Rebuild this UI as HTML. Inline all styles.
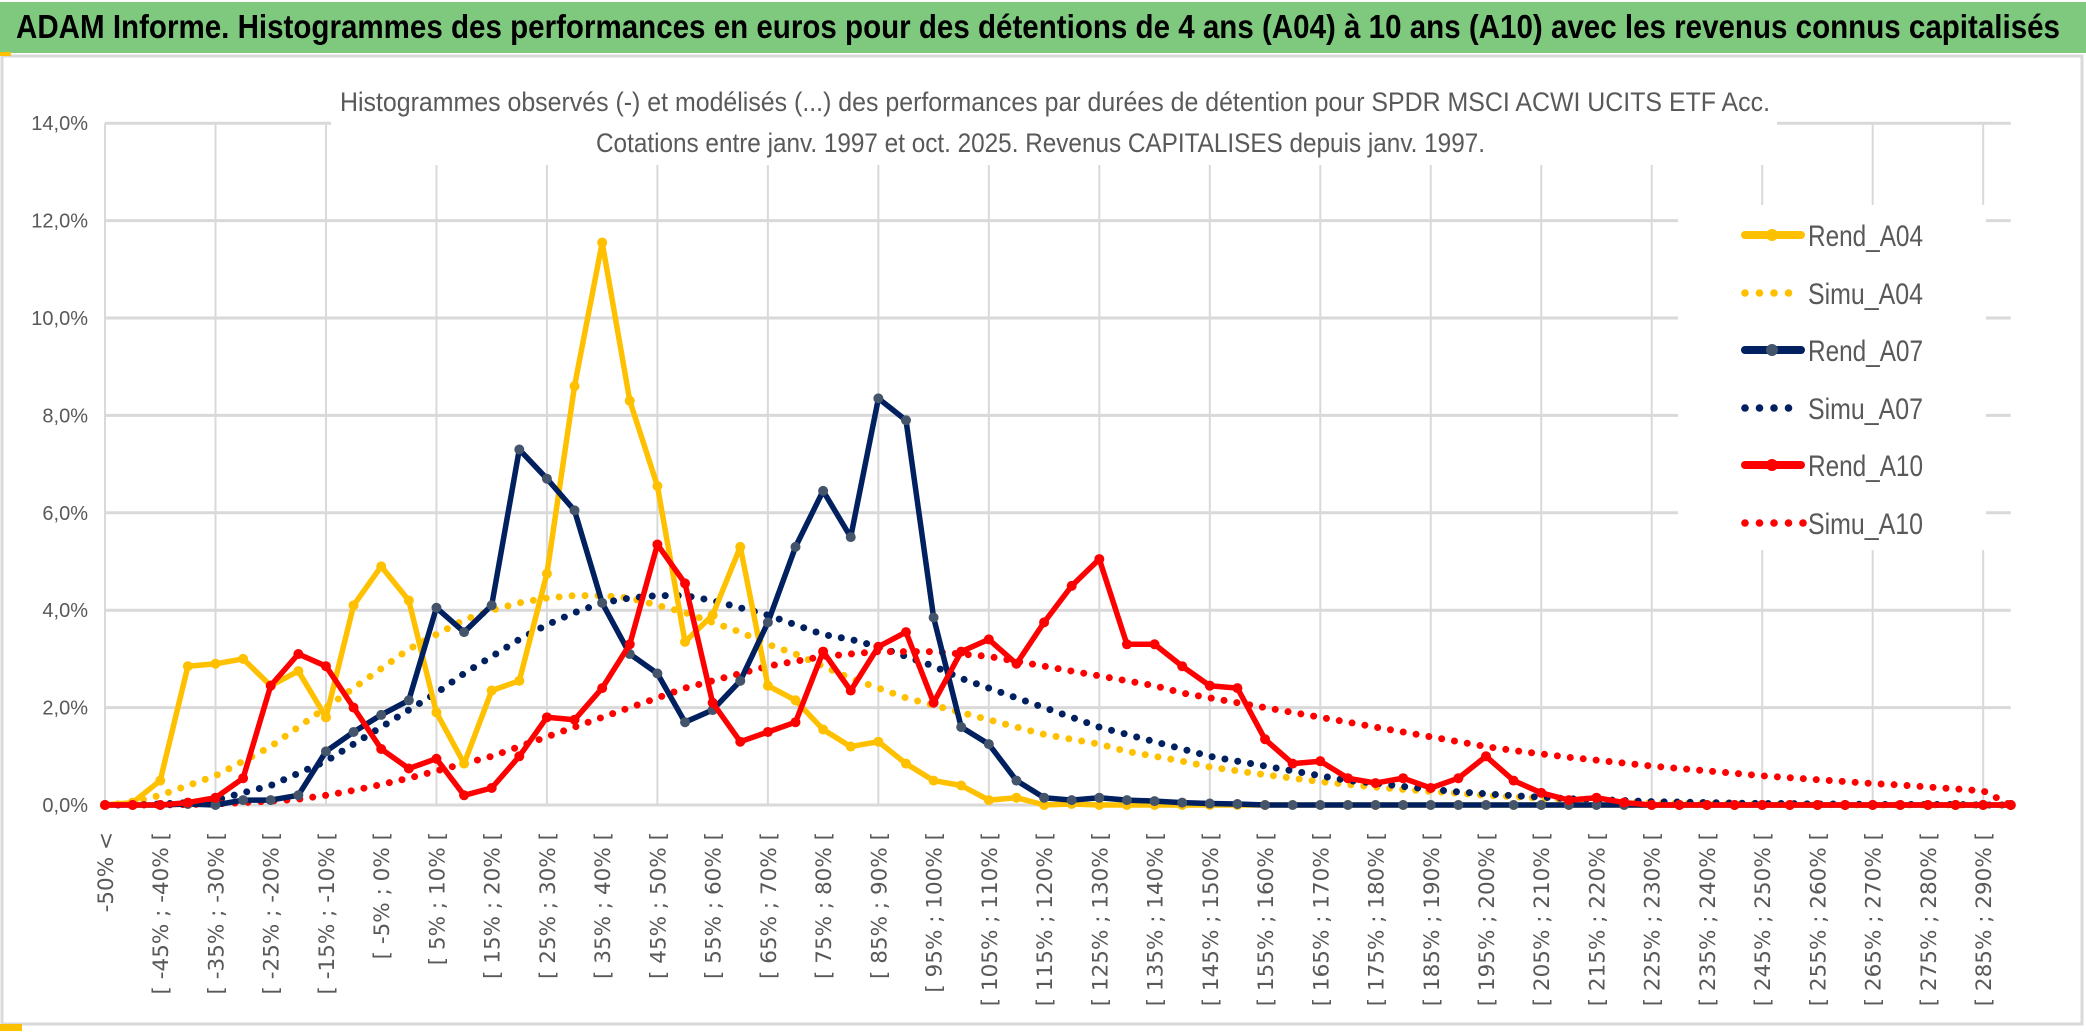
<!DOCTYPE html>
<html><head><meta charset="utf-8"><style>
html,body{margin:0;padding:0;background:#fff;width:2086px;height:1033px;overflow:hidden}
svg{display:block}
text{font-family:"Liberation Sans Narrow","Liberation Sans",sans-serif}
</style></head><body>
<svg id="chart" width="2086" height="1033" viewBox="0 0 2086 1033" xmlns="http://www.w3.org/2000/svg">
<rect x="0" y="0" width="2086" height="1033" fill="#fff"/>
<rect x="2" y="56" width="2080" height="968" fill="none" stroke="#d9d9d9" stroke-width="3"/>
<rect x="0" y="2" width="2086" height="51" fill="#7fc97f"/>
<rect x="0" y="52" width="11" height="4" fill="#ffc000"/>
<rect x="0" y="1024" width="22" height="7" fill="#ffc000"/>
<text x="16" y="38" font-size="33" font-weight="bold" fill="#000" textLength="2044" lengthAdjust="spacingAndGlyphs">ADAM Informe. Histogrammes des performances en euros pour des détentions de 4 ans (A04) à 10 ans (A10) avec les revenus connus capitalisés</text>
<g id="grid"></g>
<rect x="331" y="66" width="1446" height="99" fill="#fff"/>
<text x="340" y="111" font-size="27" fill="#595959" textLength="1430" lengthAdjust="spacingAndGlyphs">Histogrammes observés (-) et modélisés (...) des performances par durées de détention pour SPDR MSCI ACWI UCITS ETF Acc.</text>
<text x="596" y="152" font-size="27" fill="#595959" textLength="889" lengthAdjust="spacingAndGlyphs">Cotations entre janv. 1997 et oct. 2025. Revenus CAPITALISES depuis janv. 1997.</text>
<g id="yaxis"></g><g id="xaxis"></g><g id="series"></g><g id="legend"></g>
</svg>
<script>
const categories = [];
categories.push("-50% <");
for (let v = -50; v < 295; v += 5) { categories.push("[ " + v + "% ; " + (v + 5) + "% ["); }
categories.length = 70;
const yTicks = [0, 2, 4, 6, 8, 10, 12, 14];
const yTickLabels = ["0,0%", "2,0%", "4,0%", "6,0%", "8,0%", "10,0%", "12,0%", "14,0%"];
const rendA04 = [0,0.05,0.5,2.85,2.9,3.0,2.45,2.75,1.8,4.1,4.9,4.2,1.9,0.85,2.35,2.55,4.75,8.6,11.55,8.3,6.55,3.35,3.9,5.3,2.45,2.15,1.55,1.2,1.3,0.85,0.5,0.4,0.1,0.15,0,0.02,0,0,0,0,0,0,0,0,0,0,0,0,0,0,0,0,0,0,0,0,0,0,0,0,0,0,0,0,0,0,0,0,0,0];
const simuA04 = [0,0.05,0.2,0.4,0.6,0.9,1.2,1.6,2.0,2.4,2.8,3.2,3.5,3.8,4.0,4.15,4.25,4.3,4.3,4.25,4.1,3.95,3.75,3.55,3.3,3.1,2.85,2.6,2.4,2.2,2.05,1.9,1.75,1.6,1.45,1.35,1.25,1.1,1.0,0.9,0.78,0.7,0.62,0.55,0.48,0.42,0.37,0.32,0.28,0.24,0.2,0.17,0.14,0.11,0.09,0.07,0.05,0.04,0.03,0.02,0.02,0.01,0.01,0,0,0,0,0,0,0];
const rendA07 = [0,0,0,0.02,0,0.1,0.1,0.2,1.1,1.5,1.85,2.15,4.05,3.55,4.1,7.3,6.7,6.05,4.15,3.1,2.7,1.7,1.95,2.55,3.75,5.3,6.45,5.5,8.35,7.9,3.85,1.6,1.25,0.5,0.15,0.1,0.15,0.1,0.08,0.05,0.03,0.02,0,0,0,0,0,0,0,0,0,0,0,0,0,0,0,0,0,0,0,0,0,0,0,0,0,0,0,0];
const simuA07 = [0,0,0.02,0.05,0.1,0.25,0.4,0.65,0.9,1.25,1.6,1.95,2.3,2.7,3.05,3.4,3.7,3.95,4.15,4.25,4.3,4.3,4.2,4.05,3.9,3.7,3.5,3.4,3.25,3.05,2.85,2.6,2.4,2.2,2.0,1.8,1.6,1.45,1.3,1.15,1.0,0.9,0.8,0.7,0.6,0.5,0.45,0.38,0.32,0.27,0.23,0.19,0.16,0.13,0.11,0.09,0.07,0.06,0.05,0.04,0.03,0.03,0.02,0.02,0.01,0.01,0.01,0.01,0,0];
const rendA10 = [0,0,0,0.05,0.15,0.55,2.45,3.1,2.85,2.0,1.15,0.75,0.95,0.2,0.35,1.0,1.8,1.75,2.4,3.3,5.35,4.55,2.1,1.3,1.5,1.7,3.15,2.35,3.25,3.55,2.1,3.15,3.4,2.9,3.75,4.5,5.05,3.3,3.3,2.85,2.45,2.4,1.35,0.85,0.9,0.55,0.45,0.55,0.35,0.55,1.0,0.5,0.25,0.1,0.15,0.05,0,0,0,0,0,0,0,0,0,0,0,0,0,0];
const simuA10 = [0,0,0,0.01,0.02,0.05,0.08,0.12,0.2,0.3,0.42,0.55,0.7,0.85,1.0,1.2,1.4,1.6,1.8,2.0,2.2,2.4,2.55,2.7,2.85,2.95,3.05,3.1,3.15,3.15,3.15,3.1,3.05,2.95,2.85,2.75,2.65,2.55,2.45,2.3,2.2,2.1,2.0,1.9,1.8,1.7,1.6,1.5,1.4,1.3,1.2,1.12,1.05,0.98,0.92,0.86,0.8,0.75,0.7,0.65,0.6,0.56,0.52,0.48,0.44,0.41,0.37,0.33,0.29,0];

const NS = "http://www.w3.org/2000/svg";
const X0 = 105, STEP = 27.62, Y0 = 805, PER = 48.7;
function xScale(i){ return X0 + i * STEP; }
function yScale(v){ return Y0 - v * PER; }
function mk(tag, parent, attrs){ const e = document.createElementNS(NS, tag); for (const k in attrs) e.setAttribute(k, attrs[k]); parent.appendChild(e); return e; }

const grid = document.getElementById("grid");
const xRight = xScale(categories.length - 1);
yTicks.forEach((t) => {
  const l = mk("line", grid, {x1: X0, x2: xRight, y1: yScale(t), y2: yScale(t), stroke: "#d9d9d9", "stroke-width": 3});
  
  
});
for (let i = 0; i < categories.length; i += 4) {
  const l = mk("line", grid, {x1: xScale(i), x2: xScale(i), y1: yScale(14), y2: yScale(0), stroke: "#d9d9d9", "stroke-width": 2});
  
  
}
const yaxis = document.getElementById("yaxis");
yTicks.forEach((t, k) => {
  const tx = mk("text", yaxis, {x: 88, y: yScale(t) + 7, "text-anchor": "end", "font-size": 20, fill: "#595959"});
  tx.textContent = yTickLabels[k];
  
  
});
const xaxis = document.getElementById("xaxis");
categories.forEach((c, i) => {
  if (i % 2 !== 0) return;
  const x = xScale(i) + 8, y = 832;
  const tx = mk("text", xaxis, {x: x, y: y, transform: "rotate(-90 " + x + " " + y + ")", "text-anchor": "end", "font-size": 21.5, fill: "#595959", style: "font-family:'DejaVu Sans',sans-serif"});
  tx.textContent = c;
  
  
});

const series = document.getElementById("series");
function pathFor(arr){ return arr.map((v, i) => (i ? "L" : "M") + xScale(i).toFixed(1) + " " + yScale(v).toFixed(1)).join(" "); }
function dotted(arr, color, name){
  const p = mk("path", series, {d: pathFor(arr), fill: "none", stroke: color, "stroke-width": 7, "stroke-linecap": "round", "stroke-dasharray": "0 13"});
  
  
}
function solid(arr, color, mcolor, name){
  const g = mk("g", series, {});
  
  
  mk("path", g, {d: pathFor(arr), fill: "none", stroke: color, "stroke-width": 5.5, "stroke-linejoin": "round"});
  arr.forEach((v, i) => {
    const c = mk("circle", g, {cx: xScale(i), cy: yScale(v), r: 5, fill: mcolor});
    
    
  });
}
dotted(simuA04, "#ffc000", "simu-a04-line");
dotted(simuA07, "#002060", "simu-a07-line");
dotted(simuA10, "#ff0000", "simu-a10-line");
solid(rendA04, "#ffc000", "#ffc000", "rend-a04-line");
solid(rendA07, "#002060", "#44546a", "rend-a07-line");
solid(rendA10, "#ff0000", "#ff0000", "rend-a10-line");

const legend = document.getElementById("legend");
mk("rect", legend, {x: 1678, y: 205, width: 308, height: 345, fill: "#fff"});
const legendNames = ["Rend_A04", "Simu_A04", "Rend_A07", "Simu_A07", "Rend_A10", "Simu_A10"];
const legendColors = ["#ffc000", "#ffc000", "#002060", "#002060", "#ff0000", "#ff0000"];
const legendY = [235, 293, 350, 408, 465, 523];
legendNames.forEach((n, k) => {
  const g = mk("g", legend, {});
  
  
  const y = legendY[k];
  if (n.startsWith("Rend")) {
    mk("line", g, {x1: 1745, x2: 1801, y1: y, y2: y, stroke: legendColors[k], "stroke-width": 8, "stroke-linecap": "round"});
    mk("circle", g, {cx: 1772, cy: y, r: 6, fill: k === 2 ? "#44546a" : legendColors[k]});
  } else {
    const n2 = k === 5 ? 5 : 4;
    for (let j = 0; j < n2; j++) mk("circle", g, {cx: 1745 + j * 14.5, cy: y, r: 3.8, fill: legendColors[k]});
  }
  const tx = mk("text", g, {x: 1808, y: y + 11, "font-size": 30, fill: "#595959", textLength: 115, lengthAdjust: "spacingAndGlyphs"});
  tx.textContent = n;
});
</script>
</body></html>
